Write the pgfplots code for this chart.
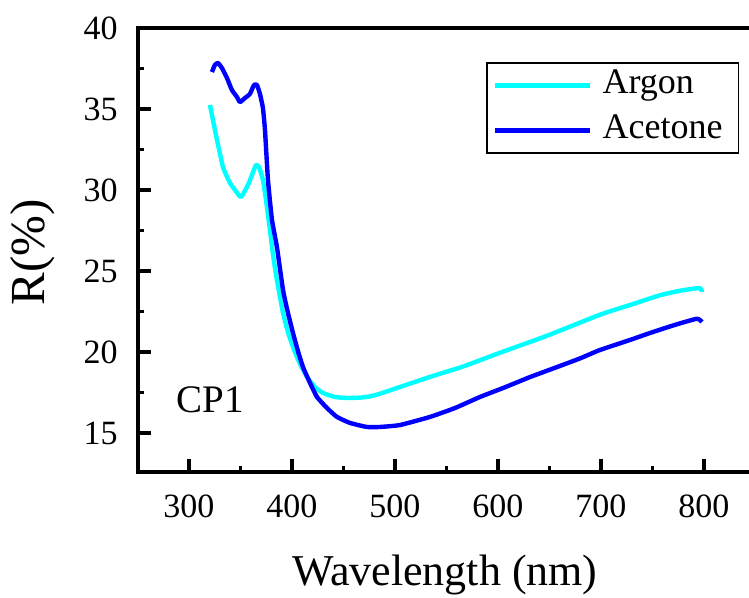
\documentclass[border=0pt]{standalone}
\usepackage{pgfplots}
\pgfplotsset{compat=1.18}
\usepackage{fontspec}
\setmainfont{Liberation Serif}

\definecolor{argon}{RGB}{0,255,255}
\definecolor{acetone}{RGB}{0,0,255}

\begin{document}
\begin{tikzpicture}
\begin{axis}[
    name=ax,
    scale only axis,
    width=308.7pt, height=222pt,
    xmin=250.5, xmax=850,
    ymin=12.59, ymax=40,
    xtick={300,400,...,800},
    ytick={15,20,...,40},
    minor x tick num=1,
    minor y tick num=1,
    xtick pos=bottom, ytick pos=left,
    tick align=inside,
    major tick length=6.5pt,
    minor tick length=3pt,
    every major tick/.style={line width=2pt, black},
    every minor tick/.style={line width=1.6pt, black},
    axis line style={line width=2pt},
    /pgf/number format/assume math mode=true,
    ticklabel style={font=\fontsize{17}{20}\selectfont, inner sep=0pt},
    xticklabel style={anchor=base, yshift=-23pt},
    yticklabel style={anchor=east, xshift=-10pt},
    xlabel={Wavelength (nm)},
    ylabel={R(\%)},
    every axis x label/.style={at={(axis description cs:0.497,-0.232)}, anchor=center,
        font=\fontsize{22}{25}\selectfont},
    every axis y label/.style={at={(axis description cs:-0.170,0.495)}, anchor=center,
        rotate=90, font=\fontsize{24.5}{28}\selectfont},
    legend cell align=left,
    legend image code/.code={\draw[#1] (0pt,0pt) -- (47.5pt,0pt);},
    legend style={at={(0.974,0.923)}, anchor=north east, draw=black, line width=0.8pt,
        font=\fontsize{18}{21}\selectfont, inner xsep=3pt, inner ysep=3pt,
        row sep=6pt,
        nodes={inner xsep=5pt, inner ysep=0pt, text height=12.5pt, text depth=4pt}},
]
\addplot[argon, line width=2.2pt, line join=round, smooth, tension=0.3] coordinates {
(320.4,35.25) (326.2,33.40) (333.0,31.42) (339.8,30.43) (344.7,30.00)
(350.5,29.57) (357.3,30.31) (361.2,30.93) (365.0,31.54) (368.0,31.42)
(371.8,30.62) (374.8,29.38) (378.6,27.53) (381.6,25.99) (385.4,24.44)
(391.3,22.41) (396.1,21.23) (401.0,20.31) (407.8,19.26) (414.6,18.46)
(422.3,17.84) (430.1,17.47) (441.7,17.22) (453.4,17.16) (466.0,17.18)
(475.7,17.26) (485.4,17.42) (504.9,17.84) (534.0,18.46) (566.0,19.10)
(601.9,19.95) (647.6,21.00) (699.0,22.30) (728.2,22.90) (757.3,23.50)
(776.7,23.78) (796.1,23.95) (798.1,23.70)
};
\addlegendentry{Argon}
\addplot[acetone, line width=2.2pt, line join=round, smooth, tension=0.3] coordinates {
(322.3,37.28) (325.2,37.72) (328.2,37.84) (332.0,37.53) (336.9,36.91)
(341.7,36.17) (346.6,35.74) (349.5,35.43) (354.4,35.68) (359.2,35.93)
(363.1,36.48) (366.0,36.48) (368.9,35.93) (371.8,35.06) (373.8,33.70)
(376.7,30.62) (380.6,28.15) (385.4,26.48) (391.3,23.83) (396.1,22.41)
(401.0,21.17) (405.8,20.06) (410.7,19.07) (417.5,18.09) (424.3,17.22)
(434.0,16.54) (443.7,15.99) (456.3,15.62) (472.8,15.37) (485.4,15.37)
(504.9,15.49) (534.0,15.99) (558.3,16.54) (582.5,17.22) (606.8,17.82)
(631.1,18.45) (655.3,19.02) (679.6,19.60) (699.0,20.12) (728.2,20.74)
(747.6,21.17) (771.8,21.67) (793.2,22.05) (798.1,21.85)
};
\addlegendentry{Acetone}
\node[font=\fontsize{19.5}{22}\selectfont] at (axis cs:320.4,17.04) {CP1};
\end{axis}
\pgfresetboundingbox
\path ([shift={(-69pt,-63pt)}]ax.south west) rectangle ([shift={(305.5pt,14pt)}]ax.north west);
\end{tikzpicture}
\end{document}
